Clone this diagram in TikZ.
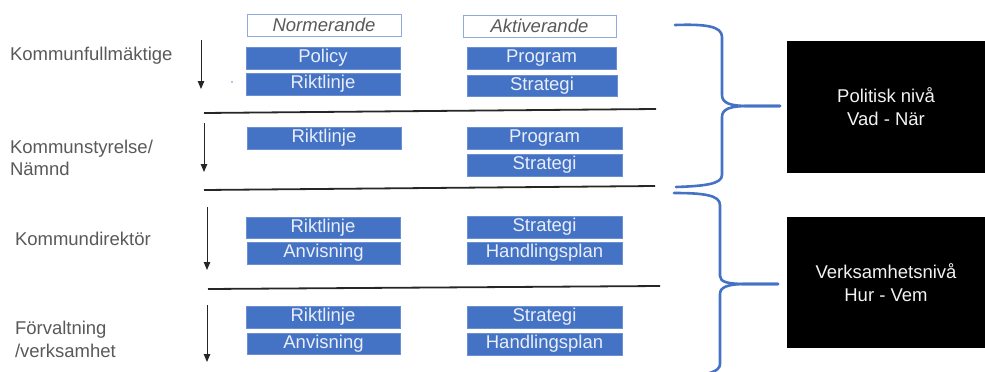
\documentclass[tikz,border=0pt]{standalone}
\usepackage{fontspec}
\setmainfont{Liberation Sans}
\usetikzlibrary{arrows.meta}
\definecolor{txtgray}{HTML}{595959}
\definecolor{boxblue}{HTML}{4472C4}
\definecolor{boxedge}{HTML}{6A8FD2}
\definecolor{headedge}{HTML}{8FAADC}
\definecolor{boxtext}{HTML}{E9EEF7}
\definecolor{linedark}{HTML}{262626}
\begin{document}
\begin{tikzpicture}[x=1pt,y=-1pt,
  every node/.style={inner sep=0pt,outer sep=0pt,font=\fontsize{18.5}{23}\selectfont},
  docbox/.style={fill=boxblue,draw=boxedge,line width=0.6pt,text=boxtext,minimum height=22pt},
  headbox/.style={fill=white,draw=headedge,line width=1pt,text=txtgray,minimum height=22pt,font=\fontsize{18.5}{23}\selectfont\itshape},
  levellabel/.style={anchor=base west,text=txtgray},
  levelbox/.style={fill=black,text=white!95!black,align=center,minimum width=198pt},
  divider/.style={draw=linedark,line width=1.8pt},
  flow/.style={draw=black!85,line width=1pt,-{Triangle[length=8pt,width=6.5pt]}},
  bracestyle/.style={draw=boxblue,line width=2.6pt,line cap=round,line join=round}]
\useasboundingbox (0,0) rectangle (985,372);

% column headers
\node[headbox,minimum width=154pt] (hnorm) at (324,25) {Normerande};
\node[headbox,minimum width=153pt] (hakt) at (539.5,26) {Aktiverande};

% Kommunfullmäktige
\node[docbox,minimum width=154pt] (n1a) at (323,58) {Policy};
\node[docbox,minimum width=154pt] (n1b) at (323,84) {Riktlinje};
\node[docbox,minimum width=149pt] (a1a) at (541.5,58) {Program};
\node[docbox,minimum width=150pt,minimum height=21pt] (a1b) at (542,85.5) {Strategi};
\fill[boxblue!80!white] (232,82) circle (0.9pt);

% Kommunstyrelse / Nämnd
\node[docbox,minimum width=154pt] (n2a) at (324,138) {Riktlinje};
\node[docbox,minimum width=155pt] (a2a) at (544.5,138) {Program};
\node[docbox,minimum width=155pt] (a2b) at (544.5,165) {Strategi};

% Kommundirektör
\node[docbox,minimum width=154pt,minimum height=21pt] (n3a) at (323,227.5) {Riktlinje};
\node[docbox,minimum width=153pt] (n3b) at (323.5,253) {Anvisning};
\node[docbox,minimum width=155pt] (a3a) at (544.5,227) {Strategi};
\node[docbox,minimum width=155pt] (a3b) at (544.5,253) {Handlingsplan};

% Förvaltning / verksamhet
\node[docbox,minimum width=154pt] (n4a) at (323,317) {Riktlinje};
\node[docbox,minimum width=153pt,minimum height=21pt] (n4b) at (323.5,343.5) {Anvisning};
\node[docbox,minimum width=155pt] (a4a) at (544.5,317) {Strategi};
\node[docbox,minimum width=155pt] (a4b) at (544.5,344) {Handlingsplan};

% level labels
\node[levellabel] (l1) at (10,60) {Kommunfullmäktige};
\node[levellabel] (l2a) at (10,153) {Kommunstyrelse/};
\node[levellabel] (l2b) at (10,175.5) {Nämnd};
\node[levellabel] (l3) at (15,245) {Kommundirektör};
\node[levellabel] (l4a) at (15,334) {Förvaltning};
\node[levellabel] (l4b) at (15,357) {/verksamhet};

% downward arrows
\coordinate (f1s) at (201,40);  \coordinate (f1e) at (201,89);
\coordinate (f2s) at (204,123); \coordinate (f2e) at (204,172);
\coordinate (f3s) at (207,207); \coordinate (f3e) at (207,270);
\coordinate (f4s) at (207,305); \coordinate (f4e) at (207,362);
\draw[flow] (f1s) -- (f1e);
\draw[flow] (f2s) -- (f2e);
\draw[flow] (f3s) -- (f3e);
\draw[flow] (f4s) -- (f4e);

% dividers between levels
\coordinate (d1w) at (204,113); \coordinate (d1e) at (656,109);
\coordinate (d2w) at (204,190); \coordinate (d2e) at (655,186);
\coordinate (d3w) at (208,289); \coordinate (d3e) at (660,286);
\draw[divider] (d1w) -- (d1e);
\draw[divider] (d2w) -- (d2e);
\draw[divider] (d3w) -- (d3e);

% level boxes
\node[levelbox,minimum height=132pt] (pol) at (886,107) {Politisk nivå\\Vad - När};
\node[levelbox,minimum height=131pt] (verk) at (886,282.5) {Verksamhetsnivå\\Hur - Vem};

% braces
\coordinate (b1tip) at (780,106);
\coordinate (b2tip) at (778,284);
\draw[bracestyle] (675,25) .. controls (705,24) and (722,26) .. (722,37)
  -- (722,95) .. controls (722,103) and (730,106) .. (748,106) -- (b1tip);
\draw[bracestyle] (b1tip) -- (748,106) .. controls (730,106) and (722,109) .. (722,117)
  -- (722,175) .. controls (722,184) and (705,186) .. (676,187);
\draw[bracestyle] (674,193) .. controls (703,193) and (720,195) .. (720,205)
  -- (720,276) .. controls (720,282) and (728,284) .. (746,284) -- (b2tip);
\draw[bracestyle] (b2tip) -- (746,284) .. controls (728,284) and (720,287) .. (720,294)
  -- (720,364) .. controls (720,372) and (706,375) .. (690,376);
\end{tikzpicture}
\end{document}
